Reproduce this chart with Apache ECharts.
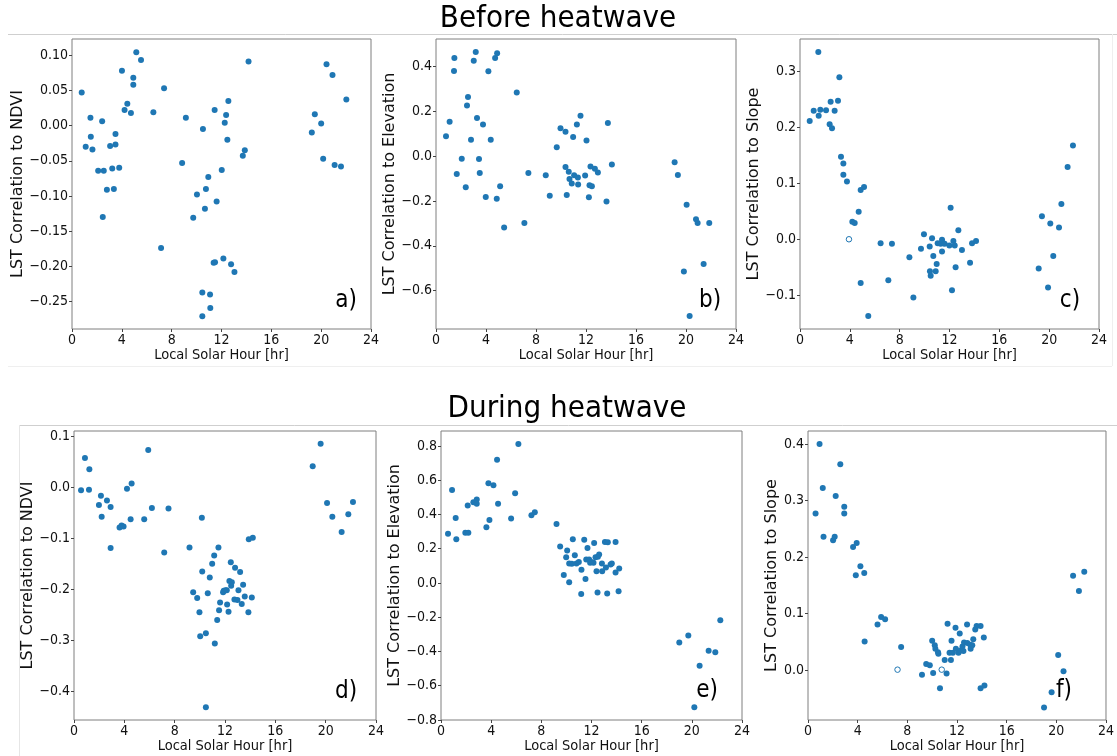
<!DOCTYPE html>
<html><head><meta charset="utf-8">
<script src="https://cdn.jsdelivr.net/npm/echarts@6/dist/echarts.min.js"></script>
<style>html,body{margin:0;padding:0;background:#fff}#c{width:1117px;height:756px}</style>
</head><body><div id="c"></div>
<script>
// ---------- DATA ----------
const xTicks = [0, 4, 8, 12, 16, 20, 24];

// a) Before heatwave: LST correlation to NDVI  [hour, r]
const beforeNdvi = [[0.78,0.047],[1.10,-0.030],[1.48,0.011],[1.51,-0.016],[1.64,-0.034],[2.10,-0.064],[2.42,0.006],[2.55,-0.064],[2.47,-0.130],[2.80,-0.091],[3.06,-0.029],[3.23,-0.061],[3.36,-0.090],[3.49,-0.012],[3.49,-0.027],[3.79,-0.060],[4.01,0.078],[4.22,0.022],[4.44,0.031],[4.73,0.018],[4.92,0.068],[4.92,0.058],[5.16,0.104],[5.54,0.093],[6.53,0.019],[7.15,-0.174],[7.39,0.053],[8.84,-0.053],[9.14,0.011],[9.73,-0.131],[10.03,-0.098],[10.46,-0.237],[10.46,-0.271],[10.51,-0.005],[10.67,-0.118],[10.75,-0.090],[10.94,-0.073],[11.08,-0.240],[11.10,-0.259],[11.37,-0.195],[11.48,-0.194],[11.45,0.022],[11.61,-0.108],[12.02,-0.063],[12.15,-0.189],[12.26,0.004],[12.37,0.015],[12.47,-0.020],[12.55,0.035],[12.77,-0.197],[13.04,-0.208],[13.71,-0.043],[13.87,-0.035],[14.17,0.091],[19.25,-0.010],[19.49,0.016],[20.00,0.003],[20.16,-0.047],[20.43,0.087],[20.91,0.072],[21.08,-0.056],[21.59,-0.058],[22.02,0.037]];
const beforeNdviOpen = [];

// b) Before heatwave: LST correlation to Elevation
const beforeElev = [[0.80,0.088],[1.09,0.153],[1.47,0.437],[1.44,0.379],[1.66,-0.080],[2.06,-0.012],[2.38,-0.139],[2.48,0.226],[2.56,0.263],[2.80,0.073],[3.02,0.425],[3.18,0.464],[3.28,0.170],[3.44,-0.013],[3.50,-0.075],[3.76,0.141],[3.98,-0.182],[4.19,0.378],[4.38,0.073],[4.73,0.437],[4.89,0.459],[4.86,-0.190],[5.13,-0.135],[5.45,-0.318],[6.46,0.284],[7.07,-0.298],[7.39,-0.075],[8.78,-0.086],[9.10,-0.177],[9.66,0.039],[9.96,0.124],[10.36,0.109],[10.36,-0.049],[10.46,-0.174],[10.62,-0.070],[10.68,-0.102],[10.86,-0.122],[10.97,0.085],[11.05,-0.086],[11.27,0.141],[11.35,-0.095],[11.37,-0.127],[11.56,0.180],[11.93,-0.087],[12.04,0.069],[12.23,-0.184],[12.28,-0.130],[12.36,-0.046],[12.47,-0.135],[12.71,-0.056],[12.95,-0.073],[13.64,-0.202],[13.75,0.147],[14.07,-0.037],[19.09,-0.028],[19.35,-0.084],[19.83,-0.515],[20.05,-0.217],[20.29,-0.713],[20.80,-0.282],[20.93,-0.298],[21.41,-0.481],[21.86,-0.298]];
const beforeElevOpen = [];

// c) Before heatwave: LST correlation to Slope
const beforeSlope = [[0.78,0.211],[1.10,0.229],[1.47,0.334],[1.50,0.220],[1.63,0.231],[2.09,0.230],[2.38,0.205],[2.46,0.245],[2.57,0.198],[2.78,0.229],[3.05,0.247],[3.16,0.289],[3.29,0.147],[3.48,0.135],[3.48,0.115],[3.77,0.103],[4.20,0.031],[4.39,0.029],[4.71,0.049],[4.87,0.088],[5.14,0.093],[4.87,-0.078],[5.48,-0.137],[6.47,-0.007],[7.09,-0.073],[7.38,-0.008],[8.78,-0.032],[9.10,-0.104],[9.71,-0.017],[9.95,0.009],[10.41,-0.013],[10.43,-0.057],[10.49,-0.065],[10.60,0.002],[10.70,-0.030],[10.89,-0.057],[10.97,-0.044],[11.05,-0.007],[11.29,-0.008],[11.40,-0.001],[11.40,-0.022],[11.50,-0.007],[11.61,-0.008],[11.99,-0.011],[12.09,0.056],[12.20,-0.091],[12.31,-0.003],[12.42,-0.011],[12.49,-0.050],[12.71,0.016],[13.00,-0.019],[13.65,-0.042],[13.81,-0.007],[14.13,-0.003],[19.16,-0.052],[19.42,0.041],[19.91,-0.086],[20.09,0.028],[20.33,-0.030],[20.79,0.021],[20.98,0.063],[21.48,0.129],[21.91,0.167]];
const beforeSlopeOpen = [[3.93,0.000]];

// d) During heatwave: LST correlation to NDVI
const duringNdvi = [[0.56,-0.006],[0.87,0.057],[1.19,-0.005],[1.22,0.035],[1.98,-0.035],[2.14,-0.017],[2.20,-0.058],[2.62,-0.026],[2.91,-0.039],[2.91,-0.119],[3.62,-0.079],[3.78,-0.075],[3.94,-0.077],[4.21,-0.003],[4.50,-0.063],[4.58,0.007],[5.58,-0.063],[5.90,0.073],[6.19,-0.041],[7.17,-0.128],[7.51,-0.042],[9.18,-0.118],[9.47,-0.206],[9.79,-0.217],[9.97,-0.245],[10.03,-0.292],[10.16,-0.060],[10.19,-0.165],[10.48,-0.286],[10.48,-0.431],[10.63,-0.208],[10.79,-0.177],[10.98,-0.150],[11.14,-0.134],[11.19,-0.306],[11.38,-0.260],[11.48,-0.118],[11.53,-0.241],[11.61,-0.226],[11.85,-0.206],[11.90,-0.203],[12.04,-0.202],[12.14,-0.202],[12.17,-0.230],[12.28,-0.244],[12.35,-0.184],[12.46,-0.147],[12.49,-0.193],[12.54,-0.186],[12.75,-0.220],[12.80,-0.158],[12.99,-0.221],[13.07,-0.202],[13.20,-0.166],[13.33,-0.229],[13.44,-0.191],[13.57,-0.214],[13.86,-0.245],[13.89,-0.102],[14.13,-0.216],[14.21,-0.099],[18.97,0.041],[19.60,0.085],[20.11,-0.031],[20.53,-0.058],[21.27,-0.088],[21.80,-0.053],[22.17,-0.029]];
const duringNdviOpen = [];

// e) During heatwave: LST correlation to Elevation
const duringElev = [[0.56,0.287],[0.88,0.543],[1.17,0.380],[1.22,0.256],[1.94,0.293],[2.13,0.452],[2.18,0.293],[2.58,0.471],[2.85,0.487],[2.85,0.462],[3.62,0.326],[3.78,0.582],[3.86,0.368],[4.18,0.571],[4.47,0.720],[4.55,0.462],[5.59,0.376],[5.91,0.524],[6.17,0.812],[7.21,0.396],[7.48,0.413],[9.21,0.345],[9.50,0.213],[9.79,0.046],[9.98,0.151],[10.06,0.190],[10.22,0.114],[10.22,0.005],[10.43,0.112],[10.51,0.256],[10.67,0.162],[10.80,0.114],[10.99,0.123],[11.18,-0.065],[11.20,0.077],[11.42,0.252],[11.52,0.024],[11.58,0.137],[11.68,0.205],[11.81,0.137],[11.89,0.118],[12.00,0.122],[12.16,0.118],[12.21,0.234],[12.32,0.151],[12.40,0.069],[12.48,-0.055],[12.51,0.153],[12.61,0.166],[12.83,0.114],[12.85,0.069],[13.07,0.240],[13.15,0.090],[13.25,-0.061],[13.30,0.238],[13.52,0.108],[13.62,0.114],[13.92,0.240],[13.92,0.061],[14.16,-0.048],[14.21,0.085],[19.00,-0.347],[19.72,-0.306],[20.20,-0.726],[20.62,-0.483],[21.34,-0.396],[21.87,-0.405],[22.27,-0.217]];
const duringElevOpen = [];

// f) During heatwave: LST correlation to Slope
const duringSlope = [[0.61,0.277],[0.93,0.400],[1.19,0.322],[1.25,0.236],[2.02,0.230],[2.15,0.236],[2.23,0.308],[2.60,0.364],[2.92,0.289],[2.92,0.277],[3.63,0.218],[3.92,0.225],[3.85,0.168],[4.22,0.184],[4.53,0.172],[4.56,0.051],[5.60,0.081],[5.89,0.094],[6.21,0.090],[7.50,0.041],[9.18,-0.008],[9.52,0.011],[9.81,0.009],[10.00,0.052],[10.08,-0.005],[10.21,0.044],[10.26,0.038],[10.47,0.032],[10.50,0.029],[10.63,-0.032],[11.01,0.018],[11.16,-0.006],[11.24,0.082],[11.40,0.031],[11.51,0.018],[11.56,0.052],[11.67,0.031],[11.88,0.075],[11.91,0.038],[12.12,0.031],[12.22,0.065],[12.28,0.035],[12.44,0.042],[12.52,0.034],[12.57,0.049],[12.81,0.081],[12.83,0.048],[13.07,0.045],[13.10,0.038],[13.23,0.044],[13.31,0.055],[13.47,0.072],[13.58,0.078],[13.90,-0.032],[13.90,0.078],[14.16,0.058],[14.21,-0.027],[19.01,-0.066],[19.62,-0.039],[20.15,0.027],[20.58,-0.002],[21.35,0.167],[21.82,0.140],[22.25,0.174]];
const duringSlopeOpen = [[7.21,0.001],[10.77,0.001]];

// tick labels
const yTicksNdviBefore = [-0.25,-0.20,-0.15,-0.10,-0.05,0.00,0.05,0.10];
const yTicksElevBefore = [-0.6,-0.4,-0.2,0.0,0.2,0.4];
const yTicksSlopeBefore = [-0.1,0.0,0.1,0.2,0.3];
const yTicksNdviDuring = [-0.4,-0.3,-0.2,-0.1,0.0,0.1];
const yTicksElevDuring = [-0.8,-0.6,-0.4,-0.2,0.0,0.2,0.4,0.6,0.8];
const yTicksSlopeDuring = [0.0,0.1,0.2,0.3,0.4];

const rowTitles = ['Before heatwave', 'During heatwave'];
const xName = 'Local Solar Hour [hr]';
const yNames = ['LST Correlation to NDVI', 'LST Correlation to Elevation', 'LST Correlation to Slope'];
const panelLetters = ['a)', 'b)', 'c)', 'd)', 'e)', 'f)'];

// ---------- LAYOUT / STYLE ----------
const FONT = "'DejaVu Sans Condensed', 'DejaVu Sans', sans-serif";
const BLUE = '#1f77b4';
const FRAME = '#7f7f7f';

const panels = [
  {pts: beforeNdvi,  open: beforeNdviOpen,  ticks: yTicksNdviBefore, dec: 2, yName: yNames[0], min: -0.289, max: 0.123, g: [72, 39, 299, 290], gap: 39, lab: [346, 301]},
  {pts: beforeElev,  open: beforeElevOpen,  ticks: yTicksElevBefore, dec: 1, yName: yNames[1], min: -0.771, max: 0.522, g: [436, 39, 300, 290], gap: 34, lab: [710, 301]},
  {pts: beforeSlope, open: beforeSlopeOpen, ticks: yTicksSlopeBefore, dec: 1, yName: yNames[2], min: -0.160, max: 0.357, g: [800, 39, 299, 290], gap: 33, lab: [1070, 301]},
  {pts: duringNdvi,  open: duringNdviOpen,  ticks: yTicksNdviDuring, dec: 1, yName: yNames[0], min: -0.456, max: 0.110, g: [74, 431, 302, 289], gap: 30, lab: [346, 692]},
  {pts: duringElev,  open: duringElevOpen,  ticks: yTicksElevDuring, dec: 1, yName: yNames[1], min: -0.800, max: 0.8875, g: [441, 431, 301, 289], gap: 33, lab: [707, 691]},
  {pts: duringSlope, open: duringSlopeOpen, ticks: yTicksSlopeDuring, dec: 1, yName: yNames[2], min: -0.088, max: 0.423, g: [808, 431, 301, 289], gap: 25, lab: [1064, 691]}
];

const fmt = (v, d) => {
  const s = Math.abs(v).toFixed(d);
  return (v < -1e-9 ? '\u2212' : '') + s;
};

const grid = [], xAxis = [], yAxis = [], series = [], graphic = [];
panels.forEach((p, i) => {
  grid.push({left: p.g[0], top: p.g[1], width: p.g[2], height: p.g[3], show: true, borderColor: FRAME, borderWidth: 1, backgroundColor: 'transparent', containLabel: false});
  xAxis.push({
    type: 'value', gridIndex: i, min: 0, max: 24, position: 'bottom',
    axisLine: {show: false, onZero: false},
    axisTick: {show: true, length: 3, lineStyle: {color: '#444'}, customValues: xTicks},
    axisLabel: {fontFamily: FONT, fontSize: 14, color: '#111', margin: 4, customValues: xTicks, formatter: v => String(v)},
    splitLine: {show: false},
    name: xName, nameLocation: 'middle', nameGap: 19,
    nameTextStyle: {fontFamily: FONT, fontSize: 14.5, color: '#111'}
  });
  yAxis.push({
    type: 'value', gridIndex: i, min: p.min, max: p.max, position: 'left',
    axisLine: {show: false, onZero: false},
    axisTick: {show: true, length: 3, lineStyle: {color: '#444'}, customValues: p.ticks},
    axisLabel: {fontFamily: FONT, fontSize: 14, color: '#111', margin: 4, customValues: p.ticks, formatter: v => fmt(v, p.dec)},
    splitLine: {show: false},
    name: p.yName, nameLocation: 'middle', nameGap: p.gap, nameRotate: 90,
    nameTextStyle: {fontFamily: "'DejaVu Sans', sans-serif", fontSize: 16, color: '#111'}
  });
  series.push({
    type: 'scatter', xAxisIndex: i, yAxisIndex: i, data: p.pts,
    symbol: 'circle', symbolSize: 6, itemStyle: {color: BLUE, opacity: 1}, silent: true
  });
  series.push({
    type: 'scatter', xAxisIndex: i, yAxisIndex: i, data: p.open,
    symbol: 'circle', symbolSize: 5.5, itemStyle: {color: '#ffffff', borderColor: BLUE, borderWidth: 1, opacity: 1}, silent: true
  });
  graphic.push({type: 'text', x: p.lab[0], y: p.lab[1], style: {text: panelLetters[i], font: "24px 'DejaVu Sans Condensed', 'DejaVu Sans', sans-serif", fill: '#000', align: 'center', verticalAlign: 'middle'}, z: 100});
});

// row titles and faint image-border lines
graphic.push({type: 'text', x: 558, y: 19, style: {text: rowTitles[0], font: "31px 'DejaVu Sans Condensed', 'DejaVu Sans', sans-serif", fill: '#000', align: 'center', verticalAlign: 'middle'}});
graphic.push({type: 'text', x: 567, y: 409, style: {text: rowTitles[1], font: "31px 'DejaVu Sans Condensed', 'DejaVu Sans', sans-serif", fill: '#000', align: 'center', verticalAlign: 'middle'}});
graphic.push({type: 'line', shape: {x1: 8, y1: 34.5, x2: 1117, y2: 34.5}, style: {stroke: '#cfcfcf', lineWidth: 1}});
graphic.push({type: 'line', shape: {x1: 20, y1: 425.5, x2: 1117, y2: 425.5}, style: {stroke: '#cfcfcf', lineWidth: 1}});
graphic.push({type: 'line', shape: {x1: 8, y1: 366.5, x2: 1112, y2: 366.5}, style: {stroke: '#efefef', lineWidth: 1}});
graphic.push({type: 'line', shape: {x1: 1112.5, y1: 34, x2: 1112.5, y2: 366}, style: {stroke: '#efefef', lineWidth: 1}});
graphic.push({type: 'line', shape: {x1: 19.5, y1: 425, x2: 19.5, y2: 756}, style: {stroke: '#e6e6e6', lineWidth: 1}});

const chart = echarts.init(document.getElementById('c'), null, {renderer: 'canvas'});
chart.setOption({animation: false, backgroundColor: '#fff', grid, xAxis, yAxis, series, graphic});
</script>
</body></html>
